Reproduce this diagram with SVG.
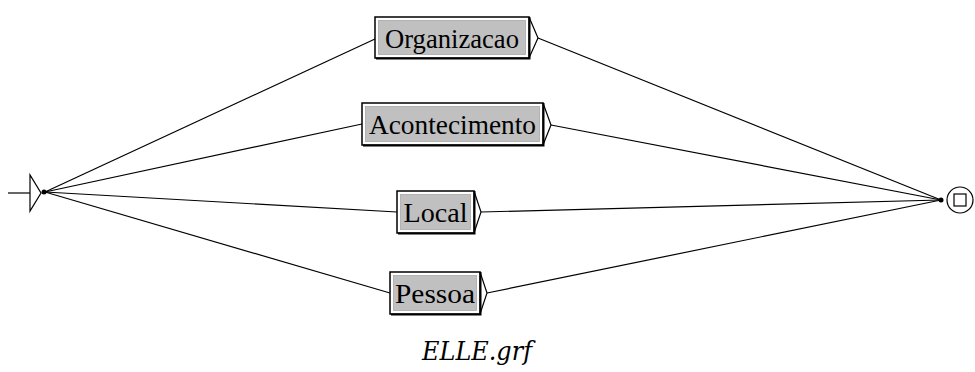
<svg xmlns="http://www.w3.org/2000/svg" width="975" height="372" viewBox="0 0 975 372">
<style>
.ln{fill:none;stroke:#000;stroke-width:1.2}
.outer{fill:#fff;stroke:#000;stroke-width:1.5}
.inner{fill:#c0c0c0;stroke:#a8a8a8;stroke-width:0.8}
.lbl{font-family:"Liberation Serif","Times New Roman",serif;font-size:28px;fill:#000;text-anchor:middle}
.title{font-family:"DejaVu Serif","Liberation Serif",serif;font-size:26px;font-style:italic;fill:#000;text-anchor:middle}
</style>
<rect width="975" height="372" fill="#fff"/>
<g id="connectors">
<path class="ln" d="M45,192 L375,39"/>
<path class="ln" d="M45,192 L362,124"/>
<path class="ln" d="M45,192 L397,212"/>
<path class="ln" d="M45,192 L390,293"/>
<path class="ln" d="M538,38 L941,200"/>
<path class="ln" d="M551,125 L941,200"/>
<path class="ln" d="M481,212 L941,200"/>
<path class="ln" d="M487,293 L941,200"/>
</g>
<g id="initial">
<path class="ln" d="M8,193 L30,193"/>
<path class="ln" d="M30,175 L30,211 L41,193 Z"/>
<circle cx="44" cy="192" r="2.5" fill="#000"/>
</g>
<g id="n-organizacao">
<rect class="outer" x="375" y="17" width="154" height="41"/>
<path d="M376,58.5 L529.5,58.5 L529.5,17" fill="none" stroke="#000" stroke-width="2"/>
<rect class="inner" x="378.5" y="20.5" width="147" height="34"/>
<path class="ln" d="M529,17 L538,38 L529,58"/>
<text class="lbl" x="452" y="47.5" textLength="134" lengthAdjust="spacingAndGlyphs">Organizacao</text>
</g>
<g id="n-acontecimento">
<rect class="outer" x="362" y="103" width="181" height="42"/>
<path d="M363,145.5 L543.5,145.5 L543.5,103" fill="none" stroke="#000" stroke-width="2"/>
<rect class="inner" x="365.5" y="106.5" width="174" height="35"/>
<path class="ln" d="M543,103 L551,125 L543,145"/>
<text class="lbl" x="452.5" y="133.5" textLength="167" lengthAdjust="spacingAndGlyphs">Acontecimento</text>
</g>
<g id="n-local">
<rect class="outer" x="397" y="191" width="77" height="42"/>
<path d="M398,233.5 L474.5,233.5 L474.5,191" fill="none" stroke="#000" stroke-width="2"/>
<rect class="inner" x="400.5" y="194.5" width="70" height="35"/>
<path class="ln" d="M474,191 L481,212 L474,233"/>
<text class="lbl" x="435.5" y="221.5" textLength="64" lengthAdjust="spacingAndGlyphs">Local</text>
</g>
<g id="n-pessoa">
<rect class="outer" x="390" y="272" width="90" height="42"/>
<path d="M391,314.5 L480.5,314.5 L480.5,272" fill="none" stroke="#000" stroke-width="2"/>
<rect class="inner" x="393.5" y="275.5" width="83" height="35"/>
<path class="ln" d="M480,272 L487,293 L480,314"/>
<text class="lbl" x="435" y="302.5" textLength="80" lengthAdjust="spacingAndGlyphs">Pessoa</text>
</g>
<g id="final">
<circle cx="941" cy="200" r="2.5" fill="#000"/>
<circle cx="960" cy="200" r="13" fill="#fff" stroke="#000" stroke-width="1.2"/>
<rect x="954" y="194" width="12" height="12" fill="none" stroke="#000" stroke-width="1.2"/>
</g>
<text class="title" x="477" y="360" textLength="110" lengthAdjust="spacingAndGlyphs">ELLE.grf</text>
</svg>
